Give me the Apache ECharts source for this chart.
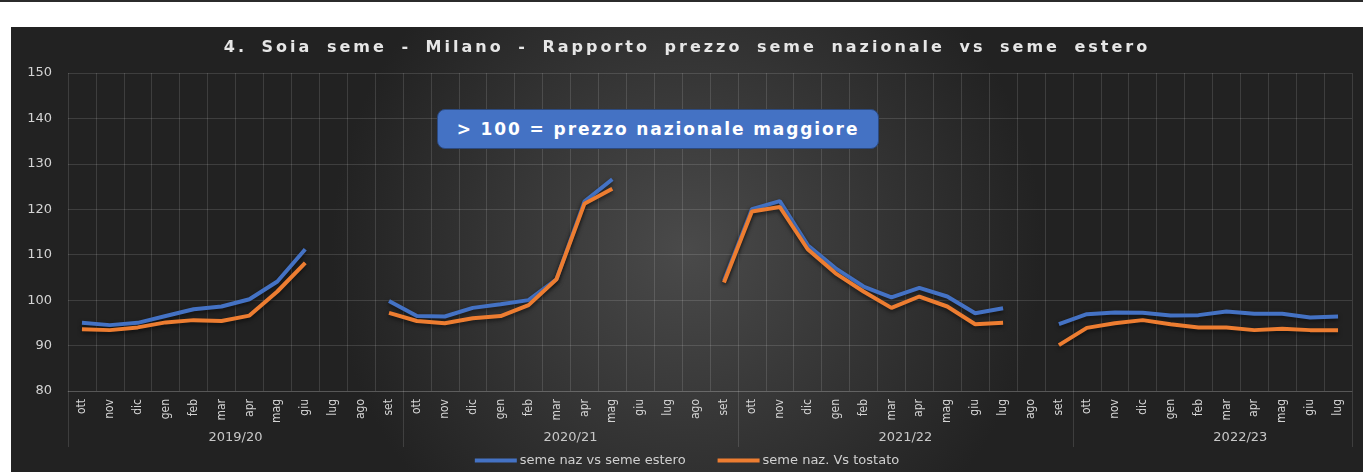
<!DOCTYPE html>
<html lang="it">
<head>
<meta charset="UTF-8">
<style>
  body{margin:0;background:#fff;width:1363px;height:472px;position:relative;overflow:hidden;}
  #topbar{position:absolute;left:0;top:0;width:1363px;height:2px;background:#2b2b2b;}
  #chart{position:absolute;left:11px;top:27px;width:1352px;height:445px;}
  #titolo{position:absolute;left:11px;top:37px;width:1352px;text-align:center;color:#e6e6e6;
    font-family:"DejaVu Sans";font-weight:bold;font-size:16px;letter-spacing:3px;word-spacing:6px;}
  #nota{position:absolute;left:437px;top:109px;width:440px;height:38px;background:#4472C4;border:1.5px solid #2c4a80;
    border-radius:8px;color:#fff;font-family:"DejaVu Sans";font-weight:bold;font-size:17px;letter-spacing:1.9px;
    line-height:38px;text-align:center;}
</style>
</head>
<body>
<div id="topbar"></div>
<div id="chart"></div>
<div id="titolo">4. Soia seme - Milano - Rapporto prezzo seme nazionale vs seme estero</div>
<div id="nota">&gt; 100 = prezzo nazionale maggiore</div>

<script src="https://cdn.jsdelivr.net/npm/echarts@6/dist/echarts.min.js"></script>
<script>
  var mesi = ['ott','nov','dic','gen','feb','mar','apr','mag','giu','lug','ago','set'];
  var mesi2223 = ['ott','nov','dic','gen','feb','mar','apr','mag','giu','lug'];
  var categorie = mesi.concat(mesi, mesi, mesi2223);
  var campagne = ['2019/20','2020/21','2021/22','2022/23'];
  // confini delle campagne e posizione delle etichette (in mesi)
  var confini = [0, 12, 24, 36, 46];
  var posCampagne = [6, 18, 30, 42];

  // seme naz vs seme estero
  var estero = [
    95.0, 94.5, 95.0, 96.5, 98.0, 98.6, 100.2, 104.1, 111.2, null, null, 99.8,
    96.5, 96.4, 98.3, 99.1, 100.0, 104.6, 121.7, 126.6, null, null, null, 104.3,
    120.0, 121.8, 112.1, 107.0, 103.0, 100.6, 102.7, 100.8, 97.1, 98.2, null, 94.7,
    96.9, 97.3, 97.2, 96.6, 96.7, 97.5, 97.0, 97.0, 96.2, 96.4
  ];
  // seme naz. Vs tostato
  var tostato = [
    93.6, 93.4, 94.0, 95.1, 95.6, 95.4, 96.6, 101.9, 108.2, null, null, 97.2,
    95.4, 94.9, 96.0, 96.5, 98.9, 104.6, 121.2, 124.5, null, null, null, 103.9,
    119.5, 120.5, 111.2, 105.9, 101.9, 98.3, 100.8, 98.6, 94.7, 95.0, null, 90.1,
    93.9, 94.9, 95.6, 94.7, 94.0, 94.0, 93.4, 93.7, 93.4, 93.4
  ];
  var yMin = 80, yMax = 150, yStep = 10;

  var chart = echarts.init(document.getElementById('chart'));
  var grigio = 'rgba(255,255,255,0.13)';
  var ombra = {shadowColor: 'rgba(0,0,0,0.55)', shadowBlur: 4, shadowOffsetY: 2};

  var option = {
    backgroundColor: new echarts.graphic.RadialGradient(0.5, 0.5, 0.8, [
      {offset: 0, color: '#4a4a4a'},
      {offset: 1, color: '#222222'}
    ]),
    animation: false,
    grid: {left: 57, right: 11, top: 46, bottom: 81},
    legend: {
      bottom: 0,
      left: 'center',
      icon: 'rect',
      itemWidth: 42,
      itemHeight: 4,
      itemGap: 32,
      textStyle: {color: '#d0d0d0', fontSize: 13, fontFamily: 'DejaVu Sans', padding: [0, 0, 0, -2]},
      data: ['seme naz vs seme estero', 'seme naz. Vs tostato']
    },
    xAxis: [
      {
        type: 'category',
        data: categorie,
        boundaryGap: true,
        axisLine: {show: true, lineStyle: {color: grigio}},
        axisTick: {show: false},
        splitLine: {show: true, interval: 0, lineStyle: {color: grigio}},
        axisLabel: {
          interval: 0, rotate: 90, margin: 8, color: '#d4d4d4', fontSize: 12,
          fontFamily: 'DejaVu Sans Condensed'
        }
      },
      {
        type: 'value',
        position: 'bottom',
        min: confini[0],
        max: confini[confini.length - 1],
        axisLine: {show: false},
        splitLine: {show: false},
        axisTick: {show: true, customValues: confini, length: 56, lineStyle: {color: grigio}},
        axisLabel: {
          customValues: posCampagne, margin: 40, color: '#c8c8c8', fontSize: 13, fontFamily: 'DejaVu Sans',
          formatter: function (v) { return campagne[posCampagne.indexOf(v)]; }
        }
      }
    ],
    yAxis: {
      type: 'value',
      min: yMin,
      max: yMax,
      interval: yStep,
      axisLine: {show: false},
      axisTick: {show: false},
      splitLine: {lineStyle: {color: grigio}},
      axisLabel: {color: '#d4d4d4', fontSize: 13, margin: 16, fontFamily: 'DejaVu Sans'}
    },
    series: [
      {
        name: 'seme naz vs seme estero',
        type: 'line',
        data: estero,
        xAxisIndex: 0,
        showSymbol: false,
        connectNulls: false,
        color: '#4472C4',
        lineStyle: Object.assign({width: 4, color: '#4472C4'}, ombra)
      },
      {
        name: 'seme naz. Vs tostato',
        type: 'line',
        data: tostato,
        xAxisIndex: 0,
        showSymbol: false,
        connectNulls: false,
        color: '#ED7D31',
        lineStyle: Object.assign({width: 4, color: '#ED7D31'}, ombra)
      }
    ]
  };
  chart.setOption(option);
</script>
</body>
</html>
